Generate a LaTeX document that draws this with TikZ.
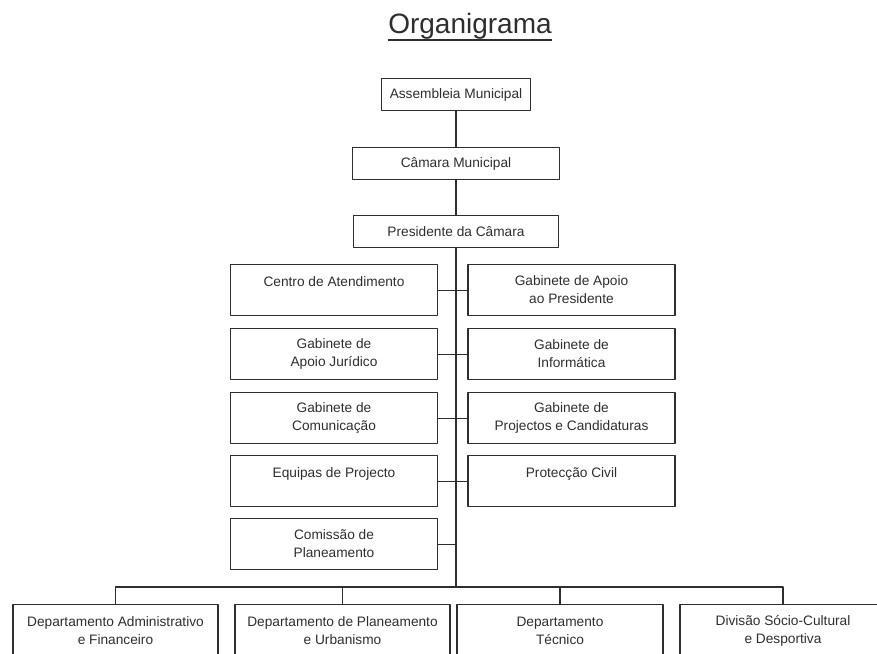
\documentclass[tikz,border=0pt]{standalone}
\usepackage{fontspec}
\setmainfont{Liberation Sans}
\begin{document}
\begin{tikzpicture}[x=1pt,y=-1pt,line width=1.1pt,line join=round,line cap=round,
		font=\fontsize{13.7}{18}\selectfont,color=black!82,
		topo/.style={draw,align=center,minimum height=32pt,inner sep=0pt,anchor=north},
		cargo/.style={draw,align=center,minimum width=207pt,minimum height=51pt,inner sep=0pt,anchor=north},
		depto/.style={draw,align=center,minimum height=52pt,inner sep=0pt,anchor=north}]
	\useasboundingbox (0,0) rectangle (877,653);
	\node[anchor=base,inner sep=0pt,font=\fontsize{28}{32}\selectfont] (titulo) at (470,33) {Organigrama};
	\draw[line width=1.8pt,line cap=butt] ([yshift=-7pt]titulo.base west) -- ([yshift=-7pt]titulo.base east);
	% topo
	\node[topo,minimum width=149pt] (assembleia) at (456,78) {Assembleia Municipal};
	\node[topo,minimum width=207pt] (camara) at (456,147) {Câmara Municipal};
	\node[topo,minimum width=205pt] (presidente) at (456,215) {Presidente da Câmara};
	% coluna esquerda
	\node[cargo] (atendimento) at (334,264) {Centro de Atendimento\\~};
	\node[cargo] (juridico) at (334,328) {Gabinete de\\Apoio Jurídico};
	\node[cargo] (comunicacao) at (334,392) {Gabinete de\\Comunicação};
	\node[cargo] (equipas) at (334,455) {Equipas de Projecto\\~};
	\node[cargo] (comissao) at (334,518) {Comissão de\\Planeamento};
	% coluna direita
	\node[cargo] (apoiopres) at (571.5,264) {Gabinete de Apoio\\ao Presidente};
	\node[cargo] (informatica) at (571.5,328) {Gabinete de\\Informática};
	\node[cargo] (projectos) at (571.5,392) {Gabinete de\\Projectos e Candidaturas};
	\node[cargo] (proteccao) at (571.5,455) {Protecção Civil\\~};
	% departamentos
	\node[depto,minimum width=205pt] (dafin) at (115.5,604) {Departamento Administrativo\\e Financeiro};
	\node[depto,minimum width=215pt] (dpu) at (342.5,604) {Departamento de Planeamento\\e Urbanismo};
	\node[depto,minimum width=206pt] (dtec) at (560,604) {Departamento\\Técnico};
	\node[depto,minimum width=206pt] (dscd) at (783,604) {Divisão Sócio-Cultural\\e Desportiva};
	% ligacoes
	\coordinate (barra) at (456,587);
	\draw (assembleia) -- (camara) -- (presidente) -- (barra);
	\foreach \esq/\dir in {atendimento/apoiopres,juridico/informatica,comunicacao/projectos,equipas/proteccao}
		\draw (\esq) -- (\dir);
	\draw (comissao.east) -- (comissao.east -| barra);
	\draw (dafin.north) |- (barra) -| (dscd.north);
	\draw (dpu.north) -- (dpu.north |- barra);
	\draw (dtec.north) -- (dtec.north |- barra);
\end{tikzpicture}
\end{document}
